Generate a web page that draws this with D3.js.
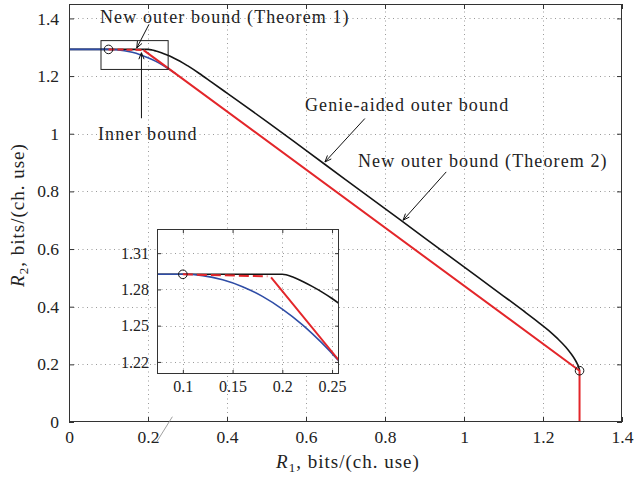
<!DOCTYPE html>
<html><head><meta charset="utf-8">
<script src="https://cdn.jsdelivr.net/npm/d3@7"></script>
<style>
body{margin:0;background:#fff;}
svg{display:block;font-family:"Liberation Serif","Times New Roman",serif;}
</style></head>
<body><svg id="c" width="634" height="478"></svg>
<script>
// ---------- data ----------
const xTicks = [0, 0.2, 0.4, 0.6, 0.8, 1, 1.2, 1.4];
const yTicks = [0, 0.2, 0.4, 0.6, 0.8, 1, 1.2, 1.4];
const insetXTicks = [0.1, 0.15, 0.2, 0.25];
const insetYTicks = [1.22, 1.25, 1.28, 1.31];

// Genie-aided outer bound (black)
const genieR1 = [0, 0.1, 0.2, 0.21, 0.22, 0.23, 0.24, 0.25, 0.26, 0.28, 0.30, 0.33, 0.36, 0.40, 0.5, 0.6, 0.7, 0.8, 0.9, 1.0, 1.1, 1.15, 1.1884, 1.214, 1.2371, 1.2575, 1.272, 1.2816, 1.2874, 1.2904, 1.2919, 1.2925];
const genieR2 = [1.2925, 1.2925, 1.2925, 1.2905, 1.2868, 1.2825, 1.2778, 1.2725, 1.2665, 1.2525, 1.236, 1.209, 1.180, 1.141, 1.043, 0.942, 0.841, 0.740, 0.639, 0.538, 0.437, 0.386, 0.346, 0.318, 0.289, 0.260, 0.235, 0.215, 0.200, 0.190, 0.183, 0.178];

// Inner bound (blue)
const innerR1 = [0, 0.1, 0.12, 0.14, 0.16, 0.18, 0.2, 0.22, 0.24, 0.255, 0.27];
const innerR2 = [1.2925, 1.2925, 1.2914, 1.2880, 1.2823, 1.2742, 1.2637, 1.2509, 1.2355, 1.2225, 1.2081];

// New outer bound, Theorem 1 (red dashed)
const thm1R1 = [0.1, 0.185];
const thm1R2 = [1.2925, 1.2908];

// New outer bound, Theorem 2 (red solid)
const thm2R1 = [0.1887, 1.2925, 1.2925];
const thm2R2 = [1.2900, 0.178, 0];

// marked points (circles)
const markR1 = [0.1, 1.2925];
const markR2 = [1.2925, 0.178];

// zoom box drawn on main axes
const boxR1 = [0.081, 0.251];
const boxR2 = [1.223, 1.323];

// ---------- layout ----------
const svg = d3.select("#c");
const x = d3.scaleLinear([0, 1.4], [69, 622]);
const y = d3.scaleLinear([0, 1.45], [422, 4]);
const xi = d3.scaleLinear([0.074, 0.257], [157, 339]);
const yi = d3.scaleLinear([1.21, 1.33], [374, 229]);

const BLACK = "#151515", BLUE = "#2f4da6", RED = "#e3262a";
const zip = (a, b) => a.map((v, i) => [v, b[i]]);

function drawAxes(g, xs, ys, xt, yt, opt) {
  const [x0, x1] = xs.range(), [y0, y1] = ys.range();
  g.append("rect").attr("x", x0).attr("y", y1).attr("width", x1 - x0).attr("height", y0 - y1)
    .attr("fill", "#fff");
  const grid = g.append("g").attr("stroke", "#9a9a9a").attr("stroke-width", 1)
    .attr("stroke-dasharray", "1,3.5");
  xt.forEach(t => { const px = Math.round(xs(t)) + 0.5;
    if (px > x0 + 1 && px < x1 - 1) grid.append("line").attr("x1", px).attr("x2", px).attr("y1", y0).attr("y2", y1); });
  yt.forEach(t => { const py = Math.round(ys(t)) + 0.5;
    if (py < y0 - 1 && py > y1 + 1) grid.append("line").attr("x1", x0).attr("x2", x1).attr("y1", py).attr("y2", py); });
  const tl = opt.tick;
  const ax = d3.axisBottom(xs).tickValues(xt).tickSizeInner(-tl).tickSizeOuter(0).tickPadding(tl + opt.padX).tickFormat(d3.format("~g"));
  const ay = d3.axisLeft(ys).tickValues(yt).tickSizeInner(-tl).tickSizeOuter(0).tickPadding(tl + opt.padY).tickFormat(d3.format("~g"));
  const axT = d3.axisTop(xs).tickValues(xt).tickSizeInner(-tl).tickSizeOuter(0).tickFormat("");
  const ayR = d3.axisRight(ys).tickValues(yt).tickSizeInner(-tl).tickSizeOuter(0).tickFormat("");
  const gb = g.append("g").attr("transform", `translate(0,${y0})`).call(ax);
  const gl = g.append("g").attr("transform", `translate(${x0},0)`).call(ay);
  g.append("g").attr("transform", `translate(0,${y1})`).call(axT);
  g.append("g").attr("transform", `translate(${x1},0)`).call(ayR);
  g.selectAll(".domain").remove();
  g.selectAll(".tick line").attr("stroke", "#333");
  [gb, gl].forEach(a => a.selectAll("text").attr("font-family", "Liberation Serif").attr("font-size", opt.fs).attr("fill", "#222"));
  return g;
}
function frame(g, xs, ys) {
  const [x0, x1] = xs.range(), [y0, y1] = ys.range();
  g.append("rect").attr("x", x0 + 0.5).attr("y", y1 + 0.5).attr("width", x1 - x0 - 1).attr("height", y0 - y1 - 1)
    .attr("fill", "none").attr("stroke", "#333").attr("stroke-width", 1);
}
function drawCurves(g, xs, ys, dash, clipId) {
  const line = d3.line().x(d => xs(d[0])).y(d => ys(d[1])).curve(d3.curveMonotoneX);
  const lin = d3.line().x(d => xs(d[0])).y(d => ys(d[1]));
  const c = g.append("g").attr("clip-path", `url(#${clipId})`).attr("fill", "none").attr("stroke-linejoin", "round");
  c.append("path").attr("d", line(zip(genieR1, genieR2))).attr("stroke", BLACK).attr("stroke-width", 1.6);
  c.append("path").attr("d", line(zip(innerR1, innerR2))).attr("stroke", BLUE).attr("stroke-width", 1.6);
  c.append("path").attr("d", lin(zip(thm1R1, thm1R2))).attr("stroke", RED).attr("stroke-width", 2).attr("stroke-dasharray", dash);
  c.append("path").attr("d", lin(zip(thm2R1, thm2R2))).attr("stroke", RED).attr("stroke-width", 2);
  return c;
}
const defs = svg.append("defs");
defs.append("clipPath").attr("id", "clipMain").append("rect")
  .attr("x", x.range()[0]).attr("y", y.range()[1]).attr("width", x.range()[1] - x.range()[0]).attr("height", y.range()[0] - y.range()[1]);
defs.append("clipPath").attr("id", "clipInset").append("rect")
  .attr("x", xi.range()[0]).attr("y", yi.range()[1]).attr("width", xi.range()[1] - xi.range()[0]).attr("height", yi.range()[0] - yi.range()[1]);

// ----- main axes -----
const gm = svg.append("g");
drawAxes(gm, x, y, xTicks, yTicks, {tick: 5, padX: 4, padY: 5, fs: 17.5});
const cm = drawCurves(gm, x, y, "6,3", "clipMain");
cm.selectAll(null).data(zip(markR1, markR2)).join("circle")
  .attr("cx", d => x(d[0])).attr("cy", d => y(d[1])).attr("r", 4.3)
  .attr("fill", "none").attr("stroke", BLACK).attr("stroke-width", 1);
gm.append("rect").attr("x", x(boxR1[0])).attr("y", y(boxR2[1]))
  .attr("width", x(boxR1[1]) - x(boxR1[0])).attr("height", y(boxR2[0]) - y(boxR2[1]))
  .attr("fill", "none").attr("stroke", "#222").attr("stroke-width", 1);
frame(gm, x, y);

// small grey connector stroke near the x axis
svg.append("line").attr("x1", x(0.2225)).attr("y1", y(-0.068)).attr("x2", x(0.2617)).attr("y2", y(0.0183))
  .attr("stroke", "#888").attr("stroke-width", 0.8);

// ----- annotations -----
function arrow(from, to) {
  const [x1, y1] = [x(from[0]), y(from[1])], [x2, y2] = [x(to[0]), y(to[1])];
  const a = Math.atan2(y2 - y1, x2 - x1), L = 7, w = 0.38;
  svg.append("line").attr("x1", x1).attr("y1", y1).attr("x2", x2).attr("y2", y2).attr("stroke", "#111").attr("stroke-width", 1);
  svg.append("path").attr("d", `M${x2 - L * Math.cos(a - w)},${y2 - L * Math.sin(a - w)}L${x2},${y2}L${x2 - L * Math.cos(a + w)},${y2 - L * Math.sin(a + w)}`)
    .attr("fill", "none").attr("stroke", "#111").attr("stroke-width", 1);
}
arrow([0.2025, 1.3795], [0.1715, 1.2974]);
arrow([0.1834, 1.0537], [0.1834, 1.281]);
arrow([0.749, 1.0527], [0.648, 0.902]);
arrow([0.955, 0.8676], [0.8457, 0.700]);

const ann = svg.append("g").attr("font-size", 18).attr("fill", "#222").attr("letter-spacing", 1.1);
ann.append("text").attr("x", 100).attr("y", 23).text("New outer bound (Theorem 1)");
ann.append("text").attr("x", 98).attr("y", 140).text("Inner bound");
ann.append("text").attr("x", 305).attr("y", 111).text("Genie-aided outer bound");
ann.append("text").attr("x", 358).attr("y", 167).text("New outer bound (Theorem 2)");

// axis labels
const xl = svg.append("text").attr("x", 348).attr("y", 468).attr("text-anchor", "middle").attr("font-size", 19).attr("fill", "#222").attr("letter-spacing", 1.0);
xl.append("tspan").attr("font-style", "italic").text("R");
xl.append("tspan").attr("font-size", 13).attr("dy", 4).text("1");
xl.append("tspan").attr("dy", -4).text(", bits/(ch. use)");
const yl = svg.append("text").attr("transform", "translate(24,215) rotate(-90)").attr("text-anchor", "middle").attr("font-size", 19).attr("fill", "#222").attr("letter-spacing", 1.0);
yl.append("tspan").attr("font-style", "italic").text("R");
yl.append("tspan").attr("font-size", 13).attr("dy", 4).text("2");
yl.append("tspan").attr("dy", -4).text(", bits/(ch. use)");

// ----- inset -----
const gi = svg.append("g");
drawAxes(gi, xi, yi, insetXTicks, insetYTicks, {tick: 4, padX: 3, padY: 4, fs: 16});
const ci = drawCurves(gi, xi, yi, "10,4", "clipInset");
ci.append("circle").attr("cx", xi(markR1[0])).attr("cy", yi(markR2[0])).attr("r", 4.3)
  .attr("fill", "none").attr("stroke", BLACK).attr("stroke-width", 1);
frame(gi, xi, yi);
</script></body></html>
